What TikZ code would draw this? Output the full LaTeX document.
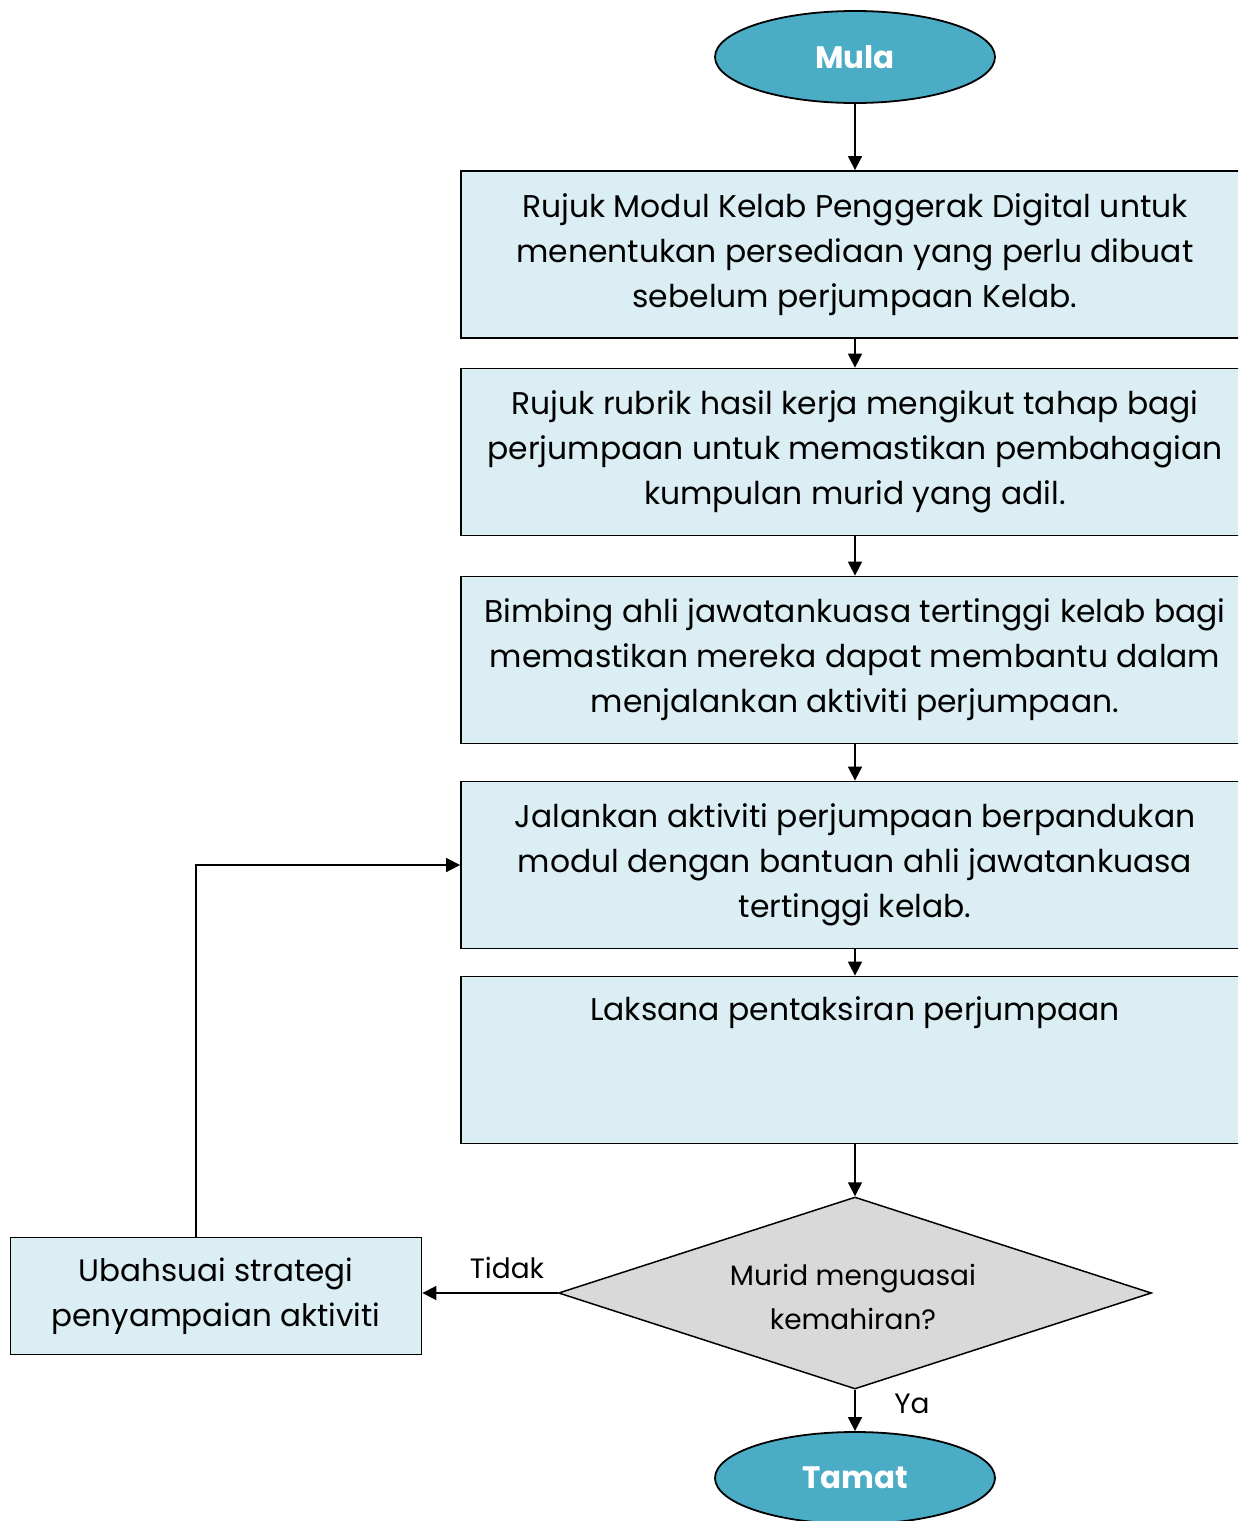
\documentclass[tikz,border=0pt]{standalone}
\usepackage{fontspec}
\setmainfont{Poppins}
\usetikzlibrary{shapes.geometric,arrows.meta}
\definecolor{termfill}{HTML}{4BACC6}
\definecolor{boxfill}{HTML}{DAEEF3}
\definecolor{decfill}{HTML}{D9D9D9}
\begin{document}
\begin{tikzpicture}[x=0.5pt,y=-0.5pt,
  term/.style={ellipse,draw=black,line width=0.9pt,fill=termfill,minimum width=140pt,minimum height=46pt,inner sep=0pt,text=white,font=\fontsize{15.5}{18}\selectfont\bfseries},
  stepbox/.style={rectangle,draw=black,line width=0.9pt,fill=boxfill,minimum width=394pt,minimum height=83.5pt,inner sep=0pt,align=center,font=\fontsize{15.7}{22.5}\selectfont},
  sidebox/.style={rectangle,draw=black,line width=0.9pt,fill=boxfill,minimum width=205.5pt,minimum height=58.5pt,inner sep=0pt,align=center,font=\fontsize{15.5}{22.5}\selectfont},
  dec/.style={diamond,draw=black,line width=0.75pt,fill=decfill,minimum width=296.5pt,minimum height=96pt,inner sep=0pt},
  arr/.style={draw=black,line width=0.8pt,-{Triangle[length=7pt,width=7pt]}},
  lbl/.style={font=\fontsize{14}{16}\selectfont}]
\useasboundingbox (0,0) rectangle (1238,1521);
\clip (0,0) rectangle (1238,1521);
\node[term] (mula) at (855,57) {Mula};
\node[stepbox] (b1) at (855,254.5) {Rujuk Modul Kelab Penggerak Digital untuk\\menentukan persediaan yang perlu dibuat\\sebelum perjumpaan Kelab.};
\node[stepbox] (b2) at (855,452) {Rujuk rubrik hasil kerja mengikut tahap bagi\\perjumpaan untuk memastikan pembahagian\\kumpulan murid yang adil.};
\node[stepbox] (b3) at (855,660) {Bimbing ahli jawatankuasa tertinggi kelab bagi\\memastikan mereka dapat membantu dalam\\menjalankan aktiviti perjumpaan.};
\node[stepbox] (b4) at (855,865) {Jalankan aktiviti perjumpaan berpandukan\\modul dengan bantuan ahli jawatankuasa\\tertinggi kelab.};
\node[stepbox] (b5) at (855,1060) {Laksana pentaksiran perjumpaan\\\strut\\\strut};
\node[dec] (dia) at (855,1293) {};
\node[align=center,font=\fontsize{14}{22}\selectfont] (diat) at (853,1297) {Murid menguasai\\kemahiran?};
\node[term] (tamat) at (855,1478) {Tamat};
\node[sidebox] (ub) at (216,1296) {Ubahsuai strategi\\penyampaian aktiviti};
\coordinate (lp) at (196,1238);
\draw[arr] (mula) -- (b1);
\draw[arr] (b1) -- (b2);
\draw[arr] (b2) -- (b3);
\draw[arr] (b3) -- (b4);
\draw[arr] (b4) -- (b5);
\draw[arr] (b5) -- (dia);
\draw[arr] (dia) -- (tamat);
\draw[arr] (dia.west) -- (dia.west -| ub.east);
\draw[arr] (lp) |- (b4.west);
\node[lbl] (tidak) at (507,1268) {Tidak};
\node[lbl] (ya) at (912,1404) {Ya};
\end{tikzpicture}
\end{document}
